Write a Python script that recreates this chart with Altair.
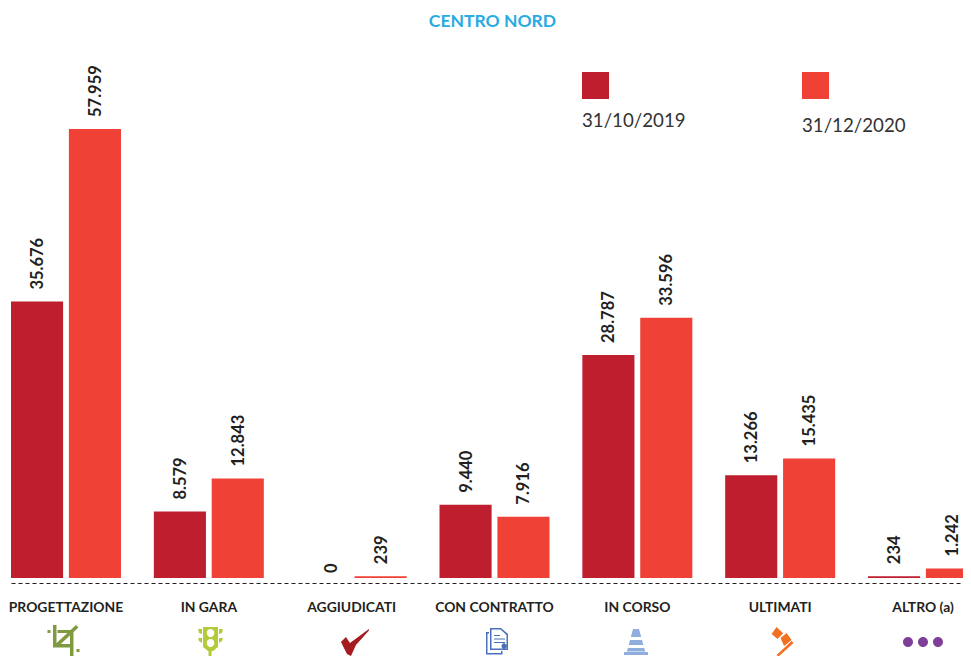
import altair as alt
import pandas as pd

categories = ["PROGETTAZIONE", "IN GARA", "AGGIUDICATI", "CON CONTRATTO", "IN CORSO", "ULTIMATI", "ALTRO (a)"]
series_names = ["31/10/2019", "31/12/2020"]
values_2019 = [35676, 8579, 0, 9440, 28787, 13266, 234]
values_2020 = [57959, 12843, 239, 7916, 33596, 15435, 1242]
series_colors = ["#BE1E2D", "#EF4136"]
chart_title = ["CENTRO NORD"]

FONT = "Lato"
INK = "#231F20"
rows = []
for c, a, b in zip(categories, values_2019, values_2020):
    rows.append({"cat": c, "series": series_names[0], "value": a, "label": f"{a:,}".replace(",", ".")})
    rows.append({"cat": c, "series": series_names[1], "value": b, "label": f"{b:,}".replace(",", ".")})
df = pd.DataFrame(rows)

x_scale = alt.Scale(domain=categories, range=[3, 970], paddingInner=0.23, paddingOuter=0)
y_scale = alt.Scale(domain=[0, 69700], range=[540, 0], nice=False, zero=True)
c_scale = alt.Scale(domain=series_names, range=series_colors)
off_scale = alt.Scale(domain=series_names, paddingInner=0.1, paddingOuter=0)

x_enc = alt.X("cat:N", scale=x_scale, title=None, sort=categories,
              axis=alt.Axis(labelAngle=0, labelFont=FONT, labelFontSize=13.9, labelFontWeight=700,
                            labelColor=INK, labelPadding=17, ticks=False, domainDash=[4, 3],
                            domainColor=INK, domainWidth=1, grid=False, labelBaseline="top"))
off_enc = alt.XOffset("series:N", scale=off_scale, sort=series_names)
y_enc = alt.Y("value:Q", scale=y_scale, axis=None)

bars = alt.Chart(df).mark_bar(clip=True).encode(
    x=x_enc, xOffset=off_enc, y=y_enc, y2=alt.datum(0),
    color=alt.Color("series:N", scale=c_scale, legend=None),
)
labels = alt.Chart(df[df["value"] > 0]).mark_text(
    angle=270, align="left", baseline="middle", dx=12, dy=1, font=FONT, fontSize=16.5, fontWeight=700, color=INK,
).encode(x=x_enc, xOffset=off_enc, y=y_enc, text="label:N")
zero_label = alt.Chart(df[df["value"] == 0]).mark_text(
    angle=270, align="left", baseline="middle", dx=5, dy=9, font=FONT, fontSize=16.5, fontWeight=700, color=INK,
).encode(x=x_enc, xOffset=off_enc, y=y_enc, text="label:N")


# --- icon glyphs: px relative to the icon centre, normalised for a symbol of size 900 (1 unit = 15px)
def n(v):
    return f"{v / 15:.3f}"

def poly(pts, sx=0.0, sy=0.0):
    return "M" + " L".join(f"{n(x + sx)} {n(y + sy)}" for x, y in pts) + " Z "

def rect(x0, y0, x1, y1, sx=0.0, sy=0.0):
    return poly([(x0, y0), (x1, y0), (x1, y1), (x0, y1)], sx, sy)

def circ(cx, cy, r, sx=0.0, sy=0.0, hole=False):
    s = 0 if hole else 1
    cx += sx
    cy += sy
    return (f"M{n(cx + r)} {n(cy)} A{n(r)} {n(r)} 0 1 {s} {n(cx - r)} {n(cy)} "
            f"A{n(r)} {n(r)} 0 1 {s} {n(cx + r)} {n(cy)} Z ")

s = -2.5
crop = (rect(-10.5, -15, -7, 7.5, s) + rect(-7, 4, 8, 7.5, s) + rect(-6, -10, 10, -7, s) + rect(6.5, -7, 10, 16, s)
        + poly([(-9, 5), (12.5, -15), (15, -12.5), (-6.5, 7.5)], s) + rect(-16, -10, -13, -7, s) + rect(13, 9, 16, 12, s))
s = 1.2
light = (poly([(-7, -13), (8, -13), (8, 7), (3, 11), (1.5, 11), (1.5, 16), (-1.5, 16), (-1.5, 11), (-2, 11), (-7, 7)], s)
         + circ(0.5, -7, 3.7, s, hole=True) + circ(0.5, 3, 3.7, s, hole=True)
         + poly([(-12, -11), (-8, -11), (-8, -6), (-11, -7)], s) + poly([(9, -11), (13, -11), (12, -7), (9, -6)], s)
         + poly([(-12, -2), (-8, -2), (-8, 3), (-11, 1)], s) + poly([(9, -2), (13, -2), (12, 1), (9, 3)], s))
s = 3.3
check = poly([(-14, 2), (-9, -3), (-5, 3), (14, -11), (14, -9.5), (1, 5), (-4, 16), (-8, 14)], s)
s = 2.5
doc = (poly([(-7, -12), (4, -12), (11, -6), (11, 10), (-7, 10)], s)
       + poly([(-5.5, -10.5), (-5.5, 8.5), (9.5, 8.5), (9.5, -5), (3.5, -10.5)], s)
       + poly([(-11, -8), (-8, -8), (-8, -6.5), (-9.5, -6.5), (-9.5, 13), (4, 13), (4, 11), (5.5, 11), (5.5, 14.5), (-11, 14.5)], s)
       + rect(-3, -5, 3, -4, s) + rect(-3, -1.5, 8, -0.5, s) + rect(-3, 2, 8, 3, s) + circ(7, 6, 2.5, s))
s = -1.3
cone = (poly([(-3, -11), (3, -11), (5.2, -3), (-5.2, -3)], s) + poly([(6, 0), (7.4, 5), (-7.4, 5), (-6, 0)], s)
        + poly([(8.2, 8), (9.2, 11.5), (-9.2, 11.5), (-8.2, 8)], s) + rect(-12, 12, 12, 15, s))
s = 2.4
gavel = (poly([(-11, -6), (-6, -13), (0.5, -6.7), (-5, -1)], s) + poly([(-2, -2), (4, -7), (9, 0), (1.5, 6)], s)
         + poly([(-6, 15), (9, 1), (11, 3), (-4, 16.5)], s))
dots = circ(-15, 2, 5) + circ(0, 2, 5) + circ(15, 2, 5)

icon_paths = [crop, light, check, doc, cone, gavel, dots]
icon_colors = ["#7F9A3F", "#B2CB3A", "#A51C20", "#4A6FBB", "#8FAEDD", "#F36F21", "#7F3F98"]

icons = [
    alt.Chart(pd.DataFrame({"cat": [c]})).mark_point(
        shape=p, filled=True, size=900, color=col, opacity=1, strokeWidth=0,
    ).encode(x=x_enc, y=alt.value(602))
    for c, p, col in zip(categories, icon_paths, icon_colors)
]

# --- legend
legend_parts = []
for name, sq_x, sq_y, tx_x, tx_y in [(series_names[0], 587.5, 47.5, 574, 83), (series_names[1], 807.5, 47.5, 794, 88)]:
    one = pd.DataFrame({"series": [name]})
    legend_parts.append(alt.Chart(one).mark_square(size=729, opacity=1, strokeWidth=0).encode(
        x=alt.value(sq_x), y=alt.value(sq_y), color=alt.Color("series:N", scale=c_scale, legend=None)))
    legend_parts.append(alt.Chart(one).mark_text(
        align="left", baseline="middle", font=FONT, fontSize=18.7, fontWeight=400, color="#333333",
    ).encode(x=alt.value(tx_x), y=alt.value(tx_y), text="series:N"))

title_mark = alt.Chart(pd.DataFrame({"t": chart_title})).mark_text(
    align="center", baseline="middle", font=FONT, fontSize=17.5, fontWeight=700, color="#29ABE2",
).encode(x=alt.value(484.5), y=alt.value(-16.5), text="t:N")

chart = alt.layer(bars, labels, zero_label, *icons, *legend_parts, title_mark).properties(
    width=955, height=545,
    padding={"left": 0, "right": 0, "top": 30, "bottom": 73},
    autosize=alt.AutoSizeParams(type="none"),
).configure_view(stroke=None)

chart.save("out.html", embed_options={"renderer": "svg", "actions": False})
